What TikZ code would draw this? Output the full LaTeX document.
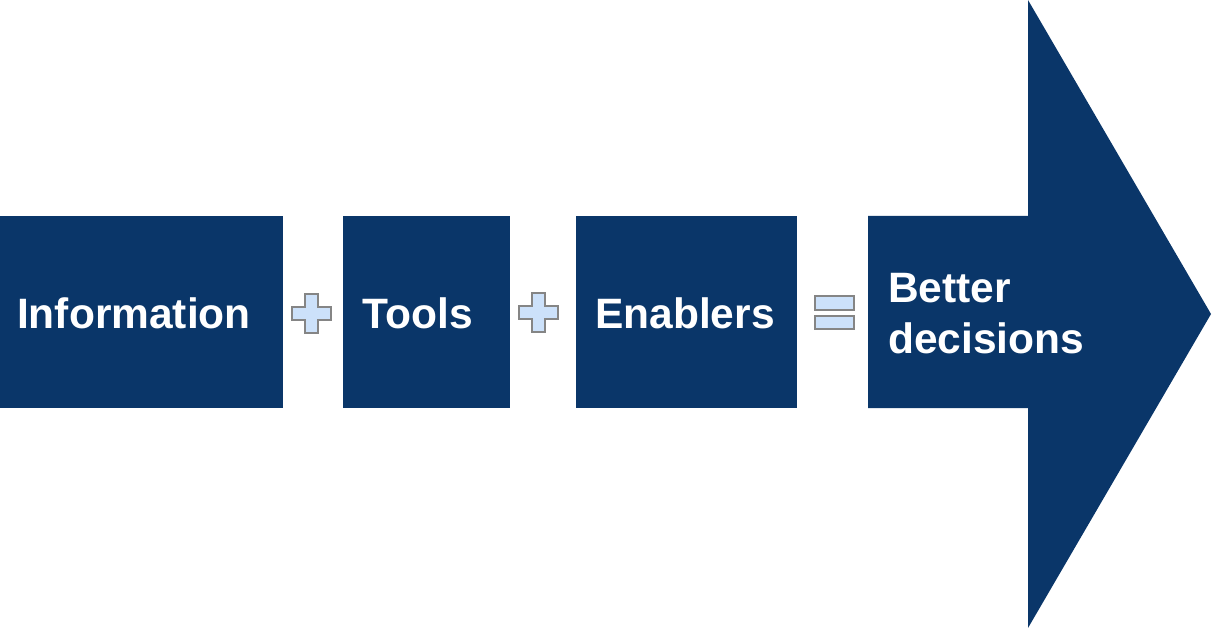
\documentclass[tikz,border=0pt]{standalone}
\usepackage{fontspec}
\setmainfont{Liberation Sans}
\definecolor{navy}{HTML}{0A3669}
\definecolor{lblue}{HTML}{CCE1FA}
\definecolor{sgray}{HTML}{858585}
\begin{document}
\begin{tikzpicture}[x=1pt,y=-1pt,
  blk/.style={fill=navy,draw=none},
  lbl/.style={text=white,font=\bfseries\fontsize{42.5}{52}\selectfont,inner sep=0pt},
  sym/.style={fill=lblue,draw=sgray,line width=2.2pt}]
\useasboundingbox (0,0) rectangle (1214,628);
% boxes
\fill[blk] (0,216) rectangle (283,408);
\fill[blk] (343,216) rectangle (510,408);
\fill[blk] (576,216) rectangle (797,408);
\fill[blk] (868,216) -- (1028,216) -- (1028,0) -- (1211,314) -- (1028,628) -- (1028,408) -- (868,408) -- cycle;
% labels
\node[lbl,anchor=base] (info) at (134,328) {Information};
\node[lbl,anchor=base] (tools) at (418,328) {Tools};
\node[lbl,anchor=base] (enab) at (685,328) {Enablers};
\node[lbl,anchor=base west] (better) at (888,302) {Better};
\node[lbl,anchor=base west] (dec) at (888,353) {decisions};
% plus 1
\draw[sym] (305,294) -- (318,294) -- (318,307) -- (331,307) -- (331,320) -- (318,320) -- (318,333) -- (305,333) -- (305,320) -- (292,320) -- (292,307) -- (305,307) -- cycle;
% plus 2
\draw[sym] (532,293) -- (545,293) -- (545,306) -- (558,306) -- (558,319) -- (545,319) -- (545,332) -- (532,332) -- (532,319) -- (519,319) -- (519,306) -- (532,306) -- cycle;
% equals
\draw[sym] (815,296) rectangle (854,310);
\draw[sym] (815,316) rectangle (854,329);
\end{tikzpicture}
\end{document}
